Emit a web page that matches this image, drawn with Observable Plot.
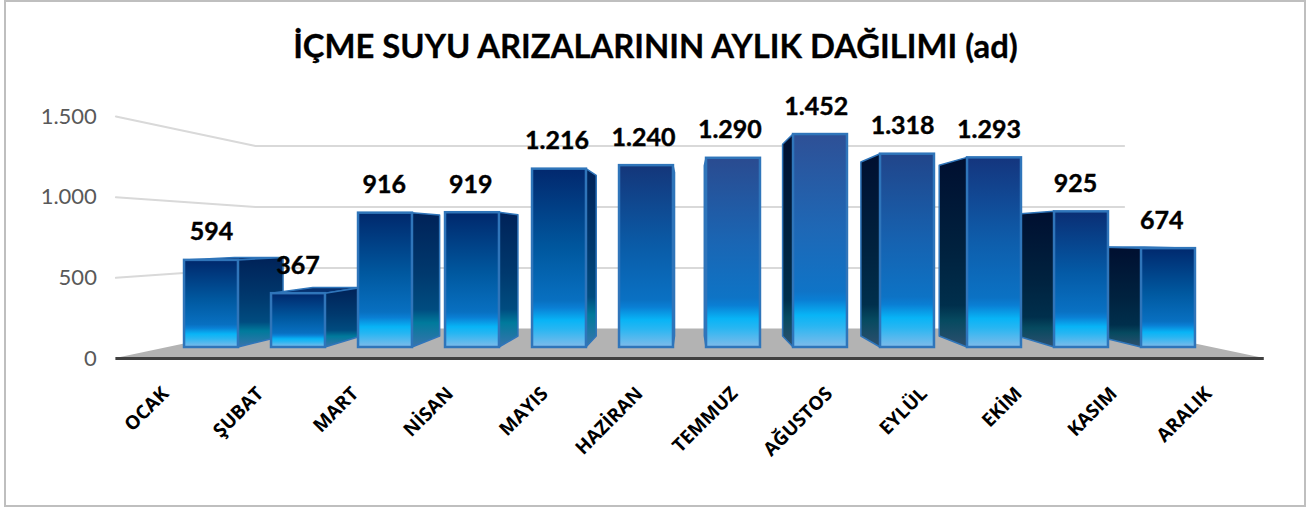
<!DOCTYPE html>
<html lang="tr">
<head>
<meta charset="utf-8">
<script src="https://cdn.jsdelivr.net/npm/d3@7"></script>
<script src="https://cdn.jsdelivr.net/npm/@observablehq/plot@0.6"></script>
<style>
html,body{margin:0;padding:0;background:#fff}
#chart{position:absolute;left:0;top:0;width:1311px;height:508px}
#chart svg{display:block;position:absolute;left:0;top:0;overflow:visible}
#frame{position:absolute;left:4px;top:0;width:1298px;height:503px;border:2px solid #bfbfbf;pointer-events:none}
</style>
</head>
<body>
<div id="chart"><div id="frame"></div></div>
<script>
const chartTitle = "İÇME SUYU ARIZALARININ AYLIK DAĞILIMI (ad)";
const months = ["OCAK","ŞUBAT","MART","NİSAN","MAYIS","HAZİRAN","TEMMUZ","AĞUSTOS","EYLÜL","EKİM","KASIM","ARALIK"];
const values = [594,367,916,919,1216,1240,1290,1452,1318,1293,925,674];
const yTicks = [0,500,1000,1500];
const frontTop = ["#00286c","#00286c","#00286c","#00286c","#02286e","#14367a","#2a4b90","#2e5096","#21458a","#14357e","#0a2e74","#00296e"];
const frontMid = ["#00589f","#00589f","#00589f","#00589f","#00589f","#0a5ca8","#1a66b4","#1e68b6","#1662b0","#0e5eac","#045aa6","#00589f"];

const fmt = d => d.toLocaleString("de-DE");
const cx = 5.49, horizon = 750, half = 0.31;
const sAxis = 1.1, sBack = 0.9, sWall = 0.832, sLabel = 1.09, labelStep = 0.993;
const px = (i, s) => cx + (i - cx) * s;
const pv = (v, s) => horizon + (v - horizon) * s;

const defs = () => {
  const d = d3.create("svg:defs");
  const grad = (id, stops) => {
    const g = d.append("linearGradient").attr("id", id).attr("x1", 0).attr("x2", 0).attr("y1", 0).attr("y2", 1);
    stops.forEach(([o, c]) => g.append("stop").attr("offset", o).attr("stop-color", c));
  };
  values.forEach((_, i) => grad(`front-${i}`, [
    [0, frontTop[i]], [0.45, frontMid[i]], [0.74, d3.interpolateRgb(frontMid[i], "#0a78cc")(0.75)],
    [0.78, "#0a7fd4"], [0.85, "#08b4f6"], [0.9, "#28b6f2"], [1, "#80bbea"]
  ]));
  grad("side-r", [[0,"#002258"],[0.45,"#00396e"],[0.72,"#004c80"],[0.82,"#007a9c"],[1,"#3a74ac"]]);
  grad("side-l", [[0,"#000f30"],[0.5,"#00223f"],[0.78,"#002f4c"],[0.86,"#064a60"],[1,"#2f4f6e"]]);
  return d.node();
};

const grid = yTicks.filter(t => t > 0).flatMap(t => [
  {t, x: px(-0.5, sAxis), y: pv(t, sAxis)},
  {t, x: px(-0.5, sWall), y: pv(t, sWall)},
  {t, x: px(11.5, sWall), y: pv(t, sWall)}
]);
const floor = [
  {y: pv(0, sAxis), x1: px(-0.5, sAxis), x2: px(11.5, sAxis)},
  {y: pv(0, sWall), x1: px(-0.5, sWall), x2: px(11.5, sWall)}
];
const border = "#2f75ba";

const sideMarks = [];
values.forEach((v, i) => {
  const left = i > cx;
  const e = left ? i - half : i + half;
  if (v < horizon) {
    sideMarks.push(Plot.areaX([
      {y: pv(v, 1), x1: px(i - half, 1), x2: px(i + half, 1)},
      {y: pv(v, sBack), x1: px(i - half, sBack), x2: px(i + half, sBack)}
    ], {y: "y", x1: "x1", x2: "x2", fill: "#06306f", stroke: border, strokeWidth: 1.5}));
  }
  sideMarks.push(Plot.areaY([
    {x: px(e, 1), y1: pv(0, 1), y2: pv(v, 1)},
    {x: px(e, sBack), y1: pv(0, sBack), y2: pv(v, sBack)}
  ], {x: "x", y1: "y1", y2: "y2", fill: left ? "url(#side-l)" : "url(#side-r)", stroke: border, strokeWidth: 1.5}));
});

const plot = Plot.plot({
  width: 1311, height: 508,
  marginLeft: 167.5, marginRight: 99.5, marginTop: 127, marginBottom: 161,
  x: {domain: [-0.5, 11.5], axis: null},
  y: {domain: [0, 1500], axis: null},
  style: {background: "transparent", fontFamily: "Lato, sans-serif"},
  marks: [
    defs,
    Plot.line(grid, {x: "x", y: "y", z: "t", stroke: "#d9d9d9", strokeWidth: 2}),
    Plot.areaX(floor, {y: "y", x1: "x1", x2: "x2", fill: "#b3b3b3"}),
    Plot.ruleY([pv(0, sAxis)], {x1: px(-0.5, sAxis), x2: px(11.5, sAxis), stroke: "#404040", strokeWidth: 3}),
    ...sideMarks,
    ...values.map((v, i) => Plot.rect([v], {
      x1: i - half, x2: i + half, y1: 0, y2: d => d,
      fill: `url(#front-${i})`, stroke: border, strokeWidth: 2.5
    })),
    Plot.text(values, {
      x: (d, i) => i * labelStep, y: d => d, text: fmt, dy: -28,
      fontSize: 25, fontWeight: 700, fill: "#000", stroke: "#000", strokeWidth: 0.4, fontFamily: "Lato, sans-serif"
    }),
    Plot.text(yTicks, {
      x: () => px(-0.5, sAxis), y: d => pv(d, sAxis), text: fmt, dx: -19,
      textAnchor: "end", fontSize: 22, fill: "#595959", fontFamily: "Lato, sans-serif"
    }),
    Plot.text(months, {
      x: (d, i) => px(i, sLabel), y: () => pv(0, sAxis), text: d => d, dy: 32, dx: -3,
      textAnchor: "end", rotate: -45, fontSize: 19, fontWeight: 700, fill: "#000", fontFamily: "'Open Sans', sans-serif"
    }),
    Plot.text([chartTitle], {
      frameAnchor: "top-left", text: d => d, dx: 655 - 167.5, dy: 34 - 127,
      textAnchor: "middle", fontSize: 32.8, fontWeight: 700, fill: "#000", stroke: "#000", strokeWidth: 0.3, fontFamily: "Lato, sans-serif"
    })
  ]
});
document.getElementById("chart").prepend(plot);
</script>
</body>
</html>
